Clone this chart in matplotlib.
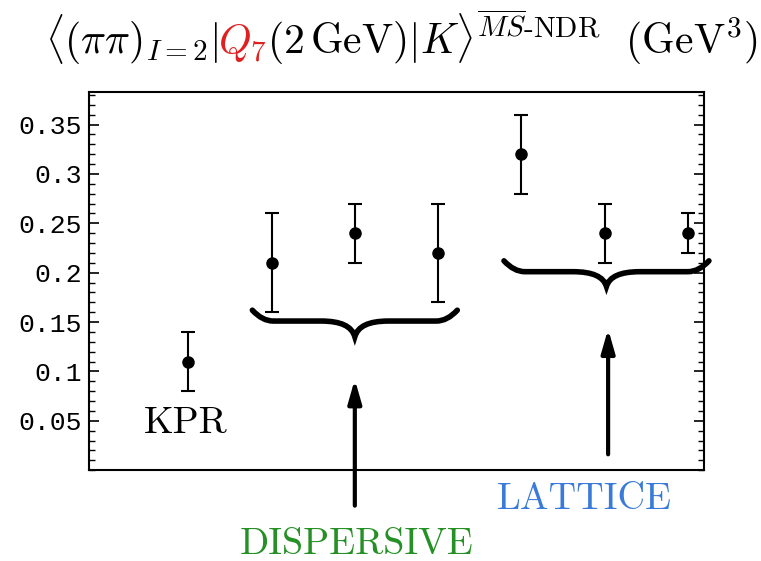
import matplotlib
matplotlib.use('Agg')
import matplotlib.pyplot as plt
from matplotlib.path import Path
from matplotlib.patches import PathPatch
from matplotlib.ticker import MultipleLocator

plt.rcParams['mathtext.fontset'] = 'cm'
plt.rcParams['axes.unicode_minus'] = False

# matrix element estimates (GeV^3)
labels = ['KPR', 'DISP-1', 'DISP-2', 'DISP-3', 'LAT-1', 'LAT-2', 'LAT-3']
xpos = [1, 2, 3, 4, 5, 6, 7]
values = [0.11, 0.21, 0.24, 0.22, 0.32, 0.24, 0.24]
lower = [0.08, 0.16, 0.21, 0.17, 0.28, 0.21, 0.22]
upper = [0.14, 0.26, 0.27, 0.27, 0.36, 0.27, 0.26]

err_lo = [v - lo for v, lo in zip(values, lower)]
err_hi = [hi - v for v, hi in zip(values, upper)]

fig = plt.figure(figsize=(7.61, 5.61), dpi=100)
ax = fig.add_axes([0.117, 0.162, 0.808, 0.674])

ax.errorbar(xpos, values, yerr=[err_lo, err_hi], fmt='o', color='black',
            ms=8, elinewidth=1.5, capsize=5, capthick=1.5)

ax.set_xlim(-0.19, 7.19)
ax.set_ylim(0, 0.383)
ax.set_xticks([])
ax.yaxis.set_minor_locator(MultipleLocator(0.01))
ax.set_yticks([0.05, 0.1, 0.15, 0.2, 0.25, 0.3, 0.35])
ax.set_yticklabels(['0.05', '0.1', '0.15', '0.2', '0.25', '0.3', '0.35'],
                   family='Liberation Mono', fontsize=19)
ax.tick_params(axis='y', which='both', direction='in', right=True)
ax.tick_params(axis='y', which='major', length=7, width=1.2, pad=5)
ax.tick_params(axis='y', which='minor', length=4, width=1.0)
for sp in ax.spines.values():
    sp.set_linewidth(1.5)


def brace(ax, xc, half, y, tip, lift):
    """Horizontal curly brace opening upward, pointing down at xc."""
    xl, xr = xc - half, xc + half
    verts = [(xl, y + lift), (xl + 0.12, y), (xl + 0.25, y),
             (xc - 0.4, y),
             (xc - 0.05, y), (xc, y - tip),
             (xc + 0.05, y), (xc + 0.4, y),
             (xr - 0.25, y),
             (xr - 0.12, y), (xr, y + lift)]
    codes = [Path.MOVETO, Path.CURVE3, Path.CURVE3,
             Path.LINETO,
             Path.CURVE3, Path.CURVE3,
             Path.CURVE3, Path.CURVE3,
             Path.LINETO,
             Path.CURVE3, Path.CURVE3]
    ax.add_patch(PathPatch(Path(verts, codes), fill=False, lw=4,
                           edgecolor='black', capstyle='round',
                           clip_on=False))


brace(ax, 3.0, 1.23, 0.151, 0.016, 0.011)
brace(ax, 6.02, 1.23, 0.201, 0.015, 0.011)

arrow_kw = dict(arrowstyle='-|>,head_length=1.4,head_width=0.4',
                lw=3, color='black', shrinkA=0, shrinkB=0)
ax.annotate('', xy=(3.0, 0.092), xytext=(3.0, -0.036),
            arrowprops=arrow_kw, annotation_clip=False)
ax.annotate('', xy=(6.04, 0.143), xytext=(6.04, 0.016),
            arrowprops=arrow_kw, annotation_clip=False)

label_kw = dict(family='cmr10', fontsize=27.5, ha='center', va='baseline',
                clip_on=False)
ax.text(0.97, 0.038, 'KPR', **label_kw)
ax.text(5.75, -0.039, 'LATTICE', color='#3a7ad8', **label_kw)
ax.text(3.02, -0.085, 'DISPERSIVE', color='#259025', **label_kw)

# title in three pieces so Q_7 can be red
pieces = [(r'$\langle(\pi\pi)_{I=2}|$', 'black'),
          (r'$Q_7$', '#e02020'),
          (r'$(2\,\mathrm{GeV})|K\rangle^{\overline{MS}\text{-NDR}}\ \ (\mathrm{GeV}^3)$', 'black')]
renderer = fig.canvas.get_renderer()
x = 0.059
for txt, col in pieces:
    t = fig.text(x, 0.903, txt, fontsize=30, color=col, ha='left', va='baseline')
    bb = t.get_window_extent(renderer)
    x = fig.transFigure.inverted().transform((bb.x1, bb.y0))[0]

fig.savefig('out.png', dpi=100)
